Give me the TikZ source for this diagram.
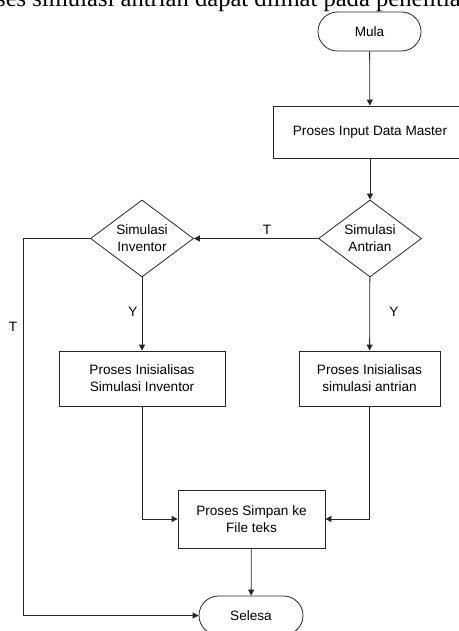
\documentclass[tikz,border=0pt]{standalone}
\usepackage{fontspec}
\setmainfont{Liberation Sans}
\newfontfamily\serifx{Liberation Serif}
\usetikzlibrary{shapes.geometric,arrows.meta}
\begin{document}
\begin{tikzpicture}[x=1bp,y=-1bp,
  every node/.style={font=\fontsize{13.6bp}{17bp}\selectfont},
  ln/.style={draw=black!85,line width=0.8bp},
  arr/.style={ln,-{Triangle[length=6bp,width=6bp]}},
  term/.style={ln,rectangle,rounded corners=19.5bp,minimum width=103bp,minimum height=39bp,inner sep=0pt},
  proc/.style={ln,rectangle,align=center,inner sep=0pt},
  dec/.style={ln,diamond,minimum width=103bp,minimum height=77bp,inner sep=0pt},
  lbl/.style={inner sep=0pt}]
\useasboundingbox (0,0) rectangle (459,631);
\node[anchor=base west,inner sep=0pt,font=\serifx\fontsize{24.6bp}{28bp}\selectfont] (top) at (-4,7) {ses simulasi antrian dapat dilihat pada penelitia};
\node[term] (mula) at (369.5,31.5) {Mula};
\node[proc,minimum width=194bp,minimum height=52bp] (input) at (370,132) {Proses Input Data Master};
\node[dec,label={[align=center,lbl]center:Simulasi\\Antrian}] (dant) at (370,238.5) {};
\node[dec,label={[align=center,lbl]center:Simulasi\\Inventor}] (dinv) at (142,238.5) {};
\node[proc,minimum width=166bp,minimum height=55bp] (binv) at (142,378.5) {Proses Inisialisas\\Simulasi Inventor};
\node[proc,minimum width=141bp,minimum height=55bp] (bant) at (369.5,378.5) {Proses Inisialisas\\simulasi antrian};
\node[proc,minimum width=147bp,minimum height=58bp] (simpan) at (251.5,519) {Proses Simpan ke\\File teks};
\node[term,minimum width=104bp] (selesa) at (251,615.5) {Selesa};
\coordinate (tl) at (23,238.5);
\draw[arr] (mula) -- (input);
\draw[arr] (input) -- (dant);
\draw[arr] (dant.west) -- (dinv.east);
\node[lbl] (tlab1) at (267,230) {T};
\draw[arr] (dinv.west) -- (tl) |- (selesa.west);
\node[lbl] (tlab2) at (13,327) {T};
\draw[arr] (dinv) -- (binv);
\node[lbl] (ylab1) at (133,312) {Y};
\draw[arr] (dant) -- (bant);
\node[lbl] (ylab2) at (394,312) {Y};
\draw[arr] (binv.south) |- (simpan.west);
\draw[arr] (bant.south) |- (simpan.east);
\draw[arr] (simpan) -- (selesa);
\end{tikzpicture}
\end{document}
